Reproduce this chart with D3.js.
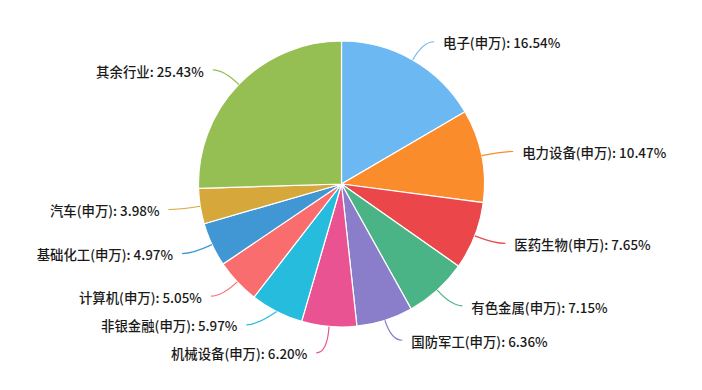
<!DOCTYPE html>
<html>
<head>
<meta charset="utf-8">
<script src="https://cdn.jsdelivr.net/npm/d3@7"></script>
<style>
  body { margin: 0; background: #fff; }
</style>
</head>
<body>
<div id="chart"></div>
<script>
// industry weights (%), clockwise from 12 o'clock
const names = ["电子(申万)", "电力设备(申万)", "医药生物(申万)", "有色金属(申万)", "国防军工(申万)",
  "机械设备(申万)", "非银金融(申万)", "计算机(申万)", "基础化工(申万)", "汽车(申万)", "其余行业"];
const values = [16.54, 10.47, 7.65, 7.15, 6.36, 6.20, 5.97, 5.05, 4.97, 3.98, 25.43];
const colors = ["#6cb8f2", "#fa8c2c", "#eb474b", "#4bb487", "#8a7dc9", "#ea5391",
  "#25bcdd", "#f96d6f", "#4197d3", "#d6a73a", "#95be53"];

const width = 702, height = 390;
const cx = 341.5, cy = 184, radius = 143;
const len1 = 21, len2 = 11, gap = 9, minSpacing = 28;

const data = names.map((n, i) => ({name: n, value: values[i], color: colors[i]}));

const svg = d3.select("#chart")
  .append("svg")
    .attr("width", width)
    .attr("height", height);

const g = svg.append("g")
  .attr("transform", `translate(${cx}, ${cy})`);

const pie = d3.pie().sort(null).value(d => d.value);
const arcs = pie(data);
const arc = d3.arc().innerRadius(0).outerRadius(radius);

g.selectAll("path.slice")
  .data(arcs)
  .join("path")
    .attr("class", "slice")
    .attr("d", arc)
    .attr("fill", d => d.data.color)
    .attr("stroke", "#fff")
    .attr("stroke-width", 1.2);

// label anchors
const R = radius + len1;
const labels = arcs.map(d => {
  const a = (d.startAngle + d.endAngle) / 2;
  const s = Math.sin(a), c = -Math.cos(a);
  return {
    d: d,
    right: s >= 0,
    p0: [radius * s, radius * c],
    x: R * s,
    y0: R * c,
    y: R * c
  };
});

// push overlapping labels apart on each side
[true, false].forEach(side => {
  const list = labels.filter(l => l.right === side).sort((a, b) => a.y - b.y);
  for (let k = 0; k < 20; k++) {
    for (let i = 1; i < list.length; i++) {
      const diff = list[i].y - list[i - 1].y;
      if (diff < minSpacing - 0.5) {
        const shift = (minSpacing - diff) / 2;
        list[i].y += shift;
        list[i - 1].y -= shift;
      }
    }
  }
  // shifted labels slide along the label circle
  list.forEach(l => {
    if (Math.abs(l.y - l.y0) > 0.5 && Math.abs(l.y) < R) {
      l.x = (side ? 1 : -1) * Math.sqrt(R * R - l.y * l.y);
    }
  });
});

labels.forEach(l => {
  const dir = l.right ? 1 : -1;
  const p1 = [l.x, l.y];
  const p2 = [p1[0] + dir * len2, l.y];
  g.append("path")
    .attr("d", `M${l.p0[0]},${l.p0[1]} Q${p1[0]},${p1[1]} ${p2[0]},${p2[1]}`)
    .attr("fill", "none")
    .attr("stroke", l.d.data.color)
    .attr("stroke-width", 1.2);
  g.append("text")
    .attr("x", p2[0] + dir * gap)
    .attr("y", l.y)
    .attr("dy", "0.5em")
    .attr("text-anchor", l.right ? "start" : "end")
    .attr("font-family", "'Noto Sans CJK SC', 'Noto Sans', sans-serif")
    .attr("font-size", "13.4px")
    .attr("font-weight", 500)
    .attr("fill", "#1a1a1a")
    .text(l.d.data.name + ": " + d3.format(".2f")(l.d.data.value) + "%");
});
</script>
</body>
</html>
